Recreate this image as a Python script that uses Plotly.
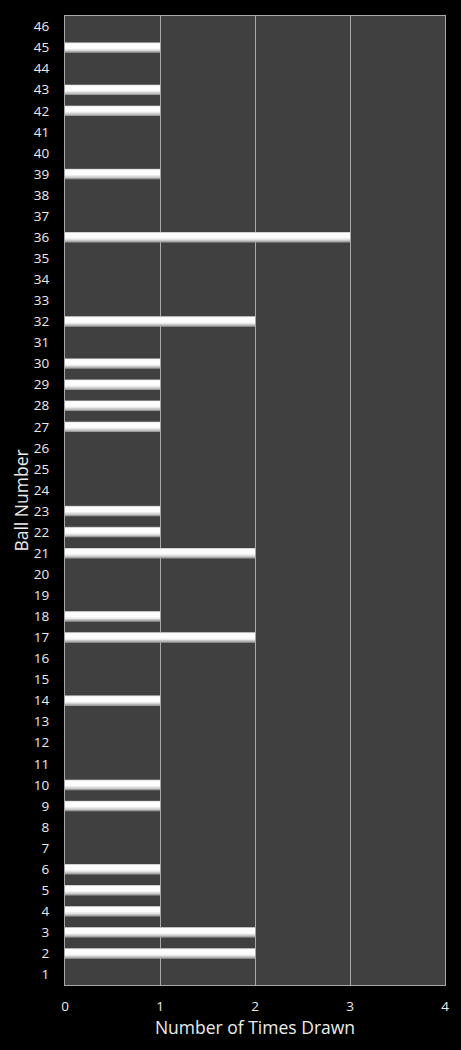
import plotly.graph_objects as go

balls = list(range(1, 47))
times_drawn = [0, 2, 2, 1, 1, 1, 0, 0, 1, 1,
               0, 0, 0, 1, 0, 0, 2, 1, 0, 0,
               2, 1, 1, 0, 0, 0, 1, 1, 1, 1,
               0, 2, 0, 0, 0, 3, 0, 0, 1, 0,
               0, 1, 1, 0, 1, 0]
x_ticks = [0, 1, 2, 3, 4]

font = "Open Sans"
# layered bars to imitate the cylinder shading: (offset, width, colour)
layers = [(-0.25, 0.5, "#9c9c9c"),
          (-0.19, 0.42, "#c8c8c8"),
          (-0.12, 0.34, "#eaeaea"),
          (-0.05, 0.25, "#fdfdfd")]

fig = go.Figure()
for i, (off, w, col) in enumerate(layers):
    fig.add_trace(go.Bar(x=times_drawn, y=balls, orientation="h", width=w, offset=off,
                         marker=dict(color=col, line=dict(width=0)),
                         hoverinfo="x+y" if i == 0 else "skip", showlegend=False))
fig.update_layout(
    width=461, height=1050,
    margin=dict(l=65, r=16, t=16, b=65),
    paper_bgcolor="black", plot_bgcolor="#404040",
    barmode="overlay",
    font=dict(family=font, color="#ececec", size=13.5),
    xaxis=dict(range=[0, 4], tickvals=x_ticks, showgrid=True, gridcolor="#a8a8a8",
               gridwidth=1, zeroline=False, showline=True, linecolor="#a8a8a8",
               mirror=True, ticks="", ticklabelstandoff=9,
               title=dict(text="Number of Times Drawn", font=dict(size=17.5, family=font), standoff=3)),
    yaxis=dict(range=[0.5, 46.5], tickvals=balls, showgrid=False, zeroline=False,
               showline=True, linecolor="#a8a8a8", mirror=True, ticks="",
               ticklabelstandoff=12,
               title=dict(text="Ball Number", font=dict(size=17.5, family=font), standoff=0)),
)
fig.write_html("out.html", config={"displayModeBar": False},
               post_script="document.body.style.margin='0';document.body.style.background='black';")
